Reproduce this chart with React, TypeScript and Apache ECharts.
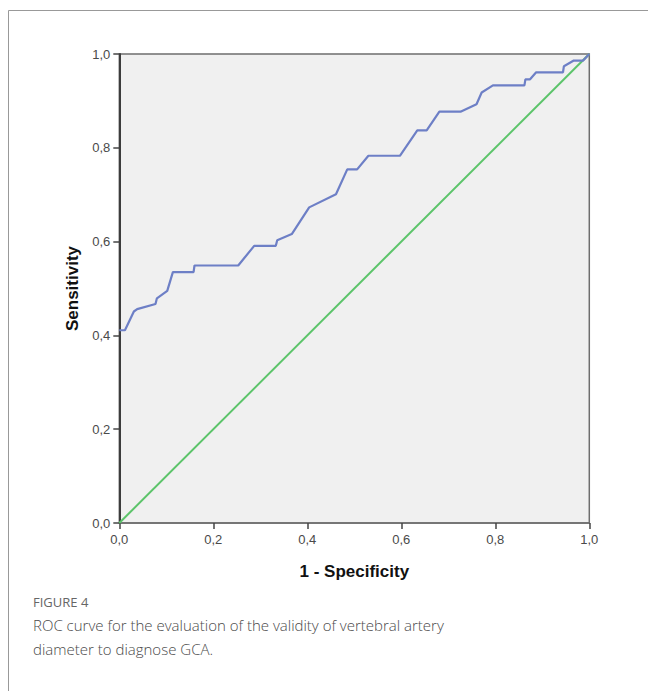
import React, { useEffect, useRef } from "react";
import * as echarts from "echarts";

const rocX = [0, 0.012, 0.031, 0.038, 0.077, 0.08, 0.102, 0.114, 0.158, 0.16, 0.253, 0.287, 0.333, 0.336, 0.367, 0.404, 0.461, 0.485, 0.506, 0.53, 0.597, 0.634, 0.654, 0.681, 0.726, 0.76, 0.771, 0.795, 0.862, 0.864, 0.874, 0.887, 0.944, 0.946, 0.967, 0.987, 1];
const rocY = [0.411, 0.411, 0.451, 0.456, 0.467, 0.479, 0.495, 0.535, 0.535, 0.549, 0.549, 0.591, 0.591, 0.603, 0.616, 0.673, 0.701, 0.754, 0.754, 0.783, 0.783, 0.837, 0.837, 0.877, 0.877, 0.893, 0.918, 0.933, 0.933, 0.946, 0.946, 0.961, 0.961, 0.974, 0.986, 0.986, 1];
const refX = [0, 1];
const refY = [0, 1];
const xTitle = "1 - Specificity";
const yTitle = "Sensitivity";
const figLabel = "FIGURE 4";
const captionLines = [
  "ROC curve for the evaluation of the validity of vertebral artery",
  "diameter to diagnose GCA.",
];

const fmt = (v: number) => v.toFixed(1).replace(".", ",");

export default function App() {
  const ref = useRef<HTMLDivElement>(null);
  useEffect(() => {
    if (!ref.current) return;
    const chart = echarts.init(ref.current, null, { renderer: "svg" });
    const labelStyle = {
      formatter: fmt,
      color: "#4a4a4a",
      fontSize: 13,
      fontFamily: "Liberation Sans, Arial, sans-serif",
    };
    const axisCommon = {
      type: "value" as const,
      min: 0,
      max: 1,
      interval: 0.2,
      splitLine: { show: false },
      axisTick: { show: true, length: 6, lineStyle: { color: "#444", width: 1.5 } },
      nameTextStyle: {
        fontSize: 17,
        fontWeight: "bold" as const,
        color: "#111",
        fontFamily: "Liberation Sans, Arial, sans-serif",
      },
    };
    chart.setOption({
      animation: false,
      backgroundColor: "#ffffff",
      grid: {
        left: 119.3,
        top: 54,
        right: 58.7,
        bottom: 168,
        show: true,
        backgroundColor: "#f0f0f0",
        borderColor: "#6e6e6e",
        borderWidth: 1.5,
      },
      xAxis: {
        ...axisCommon,
        name: xTitle,
        nameLocation: "middle",
        nameGap: 40,
        axisLine: { show: true, lineStyle: { color: "#6e6e6e", width: 1.5 } },
        axisLabel: { ...labelStyle, margin: 10 },
      },
      yAxis: {
        ...axisCommon,
        name: yTitle,
        nameLocation: "middle",
        nameGap: 38,
        nameRotate: 90,
        axisLine: { show: true, lineStyle: { color: "#3c3c3c", width: 2 } },
        axisLabel: { ...labelStyle, margin: 9 },
      },
      series: [
        {
          type: "line",
          data: refX.map((x, i) => [x, refY[i]]),
          symbol: "none",
          lineStyle: { color: "#5cc46a", width: 2 },
          z: 2,
        },
        {
          type: "line",
          data: rocX.map((x, i) => [x, rocY[i]]),
          symbol: "none",
          lineStyle: { color: "#6d7fc6", width: 2.2 },
          z: 3,
        },
      ],
      graphic: [
        {
          type: "line",
          shape: { x1: 8.5, y1: 10.5, x2: 660, y2: 10.5 },
          style: { stroke: "#999", lineWidth: 1 },
        },
        {
          type: "line",
          shape: { x1: 8.5, y1: 10.5, x2: 8.5, y2: 700 },
          style: { stroke: "#999", lineWidth: 1 },
        },
        {
          type: "text",
          left: 33,
          top: 595,
          style: {
            text: figLabel,
            fontSize: 13,
            fill: "#666",
            fontFamily: "Open Sans, sans-serif",
          },
        },
        {
          type: "text",
          left: 33,
          top: 613,
          style: {
            text: captionLines.join("\n"),
            fontSize: 15,
            lineHeight: 24,
            fontWeight: 300,
            fill: "#4a4a4a",
            fontFamily: "Open Sans, sans-serif",
          },
        },
      ],
    });
    return () => chart.dispose();
  }, []);
  return (
    <div
      ref={ref}
      style={{ position: "fixed", left: 0, top: 0, width: 648, height: 691 }}
    />
  );
}
